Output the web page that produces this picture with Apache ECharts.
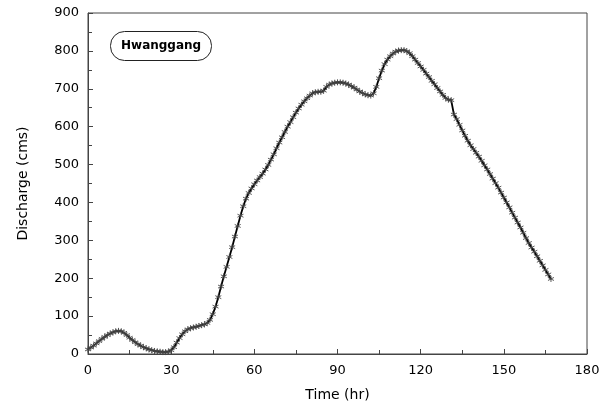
<!DOCTYPE html>
<html>
<head>
<meta charset="utf-8">
<script src="https://cdn.jsdelivr.net/npm/echarts@6/dist/echarts.min.js"></script>
<style>
  html, body { margin: 0; padding: 0; background: #fff; }
  #chart { width: 608px; height: 417px; }
</style>
</head>
<body>
<div id="chart"></div>
<script>
// hourly discharge at Hwanggang, t = 0..167 hr
const hours = Array.from({ length: 168 }, (_, i) => i);
const discharge = [
  12, 17, 22, 28, 34, 40, 45, 50, 54, 57,
  60, 61, 60, 56, 50, 43, 37, 31, 26, 22,
  18, 15, 12, 10, 8, 7, 6, 5, 5, 6,
  10, 18, 30, 42, 52, 60, 65, 68, 70, 72,
  74, 76, 78, 82, 90, 105, 125, 150, 178, 205,
  230, 256, 282, 310, 338, 365, 390, 410, 425, 437,
  448, 458, 467, 476, 487, 499, 513, 527, 543, 558,
  572, 586, 600, 612, 625, 637, 648, 658, 667, 675,
  682, 688, 691, 692, 692, 695, 705, 711, 714, 716,
  717, 717, 716, 714, 711, 707, 703, 698, 693, 689,
  685, 683, 682, 688, 705, 728, 748, 765, 777, 786,
  793, 798, 801, 802, 802, 799, 794, 786, 777, 768,
  759, 750, 740, 731, 721, 712, 702, 693, 684, 676,
  671, 670, 632, 620, 605, 590, 576, 563, 551, 541,
  531, 521, 510, 498, 487, 475, 463, 451, 439, 426,
  413, 400, 387, 373, 360, 347, 334, 320, 306, 293,
  281, 270, 258, 246, 234, 222, 210, 198
];
const stationName = 'Hwanggang';

const chart = echarts.init(document.getElementById('chart'));
const FONT = 'DejaVu Sans, Verdana, sans-serif';
const asterisk = 'path://M0,-5L0,5M-4.33,-2.5L4.33,2.5M-4.33,2.5L4.33,-2.5';

chart.setOption({
  backgroundColor: '#fff',
  animation: false,
  title: {
    text: stationName,
    left: 110,
    top: 31,
    padding: [9, 11],
    borderColor: '#222',
    borderWidth: 1,
    borderRadius: 14,
    textStyle: { fontFamily: FONT, fontSize: 12, fontWeight: 'bold', color: '#000' }
  },
  grid: {
    left: 88,
    right: 21,
    top: 13,
    bottom: 63,
    show: true,
    borderColor: '#444',
    borderWidth: 1
  },
  xAxis: {
    type: 'value',
    min: 0,
    max: 180,
    interval: 30,
    name: 'Time (hr)',
    nameLocation: 'middle',
    nameGap: 34,
    nameTextStyle: { fontFamily: FONT, fontSize: 14, color: '#000' },
    axisLine: { lineStyle: { color: '#444' } },
    axisTick: { inside: true, length: 5, lineStyle: { color: '#444' } },
    minorTick: { show: true, splitNumber: 2, length: 4, lineStyle: { color: '#444' } },
    axisLabel: { fontFamily: FONT, fontSize: 13, color: '#000', margin: 10 },
    splitLine: { show: false }
  },
  yAxis: {
    type: 'value',
    min: 0,
    max: 900,
    interval: 100,
    name: 'Discharge (cms)',
    nameLocation: 'middle',
    nameGap: 58,
    nameTextStyle: { fontFamily: FONT, fontSize: 14, color: '#000' },
    axisLine: { show: true, lineStyle: { color: '#444' } },
    axisTick: { show: true, inside: true, length: 5, lineStyle: { color: '#444' } },
    minorTick: { show: true, splitNumber: 2, length: 4, lineStyle: { color: '#444' } },
    axisLabel: { fontFamily: FONT, fontSize: 13, color: '#000', margin: 9 },
    splitLine: { show: false }
  },
  series: [
    {
      type: 'line',
      data: hours.map((h, i) => [h, discharge[i]]),
      symbol: asterisk,
      symbolSize: 6,
      showAllSymbol: true,
      lineStyle: { color: '#000', width: 1.8 },
      itemStyle: { color: '#000', borderColor: '#444', borderWidth: 0.9 }
    }
  ]
});
</script>
</body>
</html>
